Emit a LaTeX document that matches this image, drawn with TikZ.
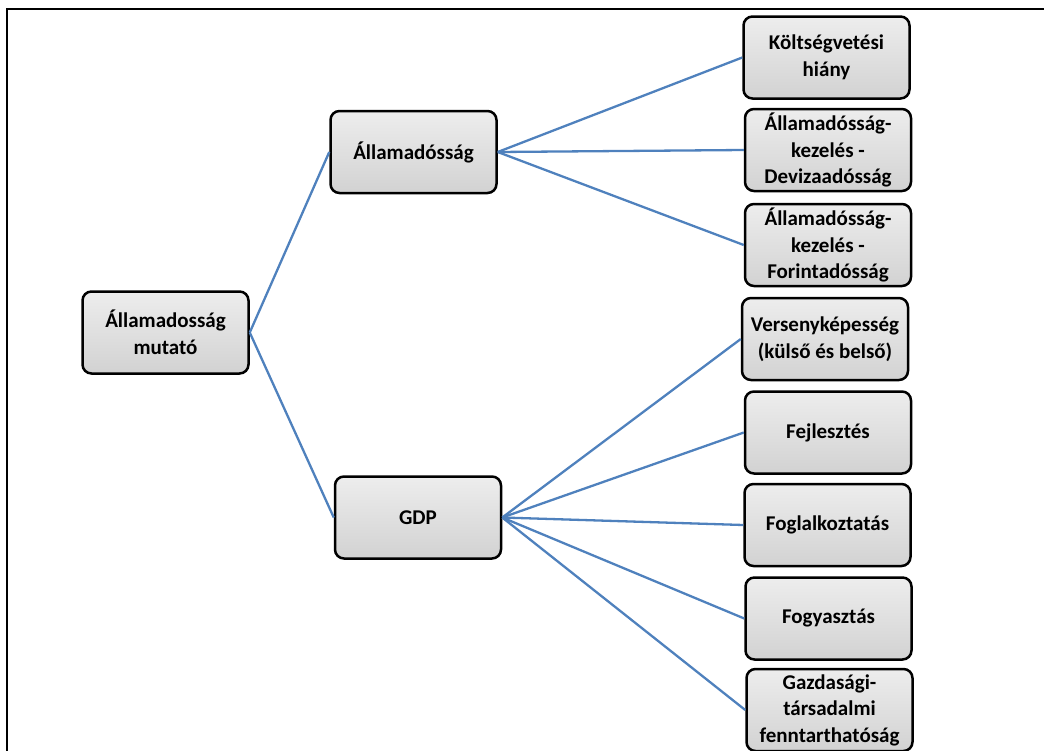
\documentclass[tikz,border=0pt]{standalone}
\usepackage{fontspec}
\setmainfont{Carlito}
\definecolor{linkblue}{HTML}{4F81BD}
\definecolor{boxtop}{HTML}{EDEDED}
\definecolor{boxbot}{HTML}{D2D2D2}
\begin{document}
\begin{tikzpicture}[x=1pt,y=-1pt,
  box/.style={draw=black, line width=2.5pt, rounded corners=9pt,
    top color=boxtop, bottom color=boxbot,
    minimum width=166pt, minimum height=82pt, inner sep=0pt,
    align=center, font=\bfseries\fontsize{21}{26.5}\selectfont},
  link/.style={draw=linkblue, line width=2.3pt}]
\useasboundingbox (0,0) rectangle (1044,750);
\draw[line width=2.5pt] (7,752) -- (7,9) -- (1046,9);

\node[box] (root) at (165.5,332.5) {Államadosság\\mutató};
\node[box] (all) at (413.5,152) {Államadósság};
\node[box] (gdp) at (418,517.5) {GDP};

\node[box] (kolt) at (826.5,57.5) {Költségvetési\\hiány};
\node[box] (dev) at (828,150) {Államadósság-\\kezelés -\\Devizaadósság};
\node[box] (forint) at (828,245) {Államadósság-\\kezelés -\\Forintadósság};
\node[box] (vers) at (825,339) {Versenyképesség\\(külső és belső)};
\node[box] (fejl) at (828,432.5) {Fejlesztés};
\node[box] (fogl) at (827.5,525) {Foglalkoztatás};
\node[box] (fogy) at (828.5,618.5) {Fogyasztás};
\node[box] (gazd) at (829.5,710) {Gazdasági-\\társadalmi\\fenntarthatóság};

\draw[link] (root.east) -- (all.west);
\draw[link] (root.east) -- (gdp.west);
\foreach \t in {kolt,dev,forint}
  \draw[link] (all.east) -- (\t.west);
\foreach \t in {vers,fejl,fogl,fogy,gazd}
  \draw[link] (gdp.east) -- (\t.west);
\end{tikzpicture}
\end{document}
